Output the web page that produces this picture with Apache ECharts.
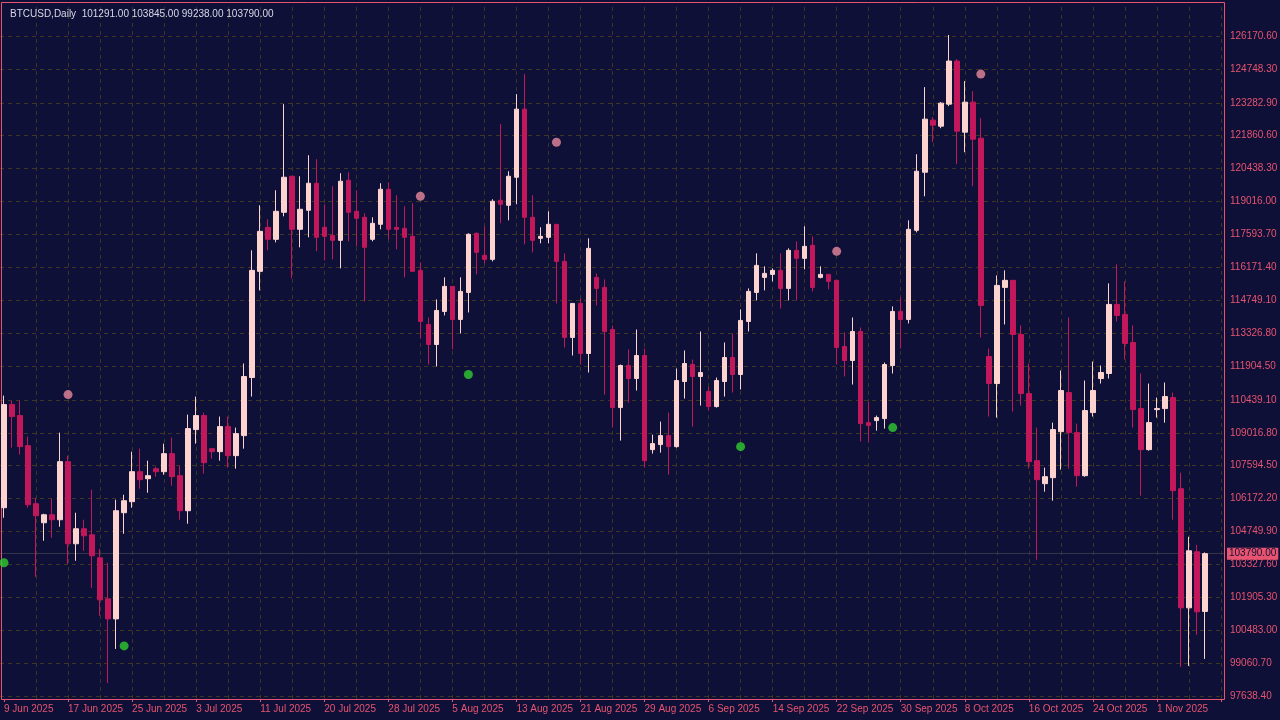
<!DOCTYPE html>
<html><head><meta charset="utf-8">
<script src="https://cdn.jsdelivr.net/npm/echarts@6/dist/echarts.min.js"></script>
<style>html,body{margin:0;padding:0;background:#0e1038;}#c{width:1280px;height:720px;}</style>
</head><body><div id="c"></div>
<script>
// OHLC per day: [open, close, low, high]
const ohlc = [
[105777,110236,105344,110626],[110236,109717,108375,110410],[109760,108418,108071,110410],[108461,105906,105777,108851],
[105949,105430,102789,106210],[105127,105473,104348,105517],[105473,105257,104478,106166],[105257,107768,104954,109024],
[107768,104218,103352,108028],[104218,104867,103482,105560],[104867,104564,103915,105257],[104607,103698,102313,106556],
[103611,101793,101100,104001],[101836,100970,98199,103395],[100970,105647,99671,106123],[105560,106080,104651,106339],
[106037,107335,105777,108201],[107335,106989,106599,108331],[107032,107162,106426,107811],[107465,107335,107119,107551],
[107335,108115,107205,108548],[108115,107119,106729,108808],[107162,105647,105257,107595],[105647,109197,105084,109803],
[109154,109760,108548,110583],[109760,107725,107249,109890],[108331,108201,107898,108331],[108201,109284,107811,109717],
[109284,108028,107509,109717],[108028,108981,107465,109241],[108894,111449,108331,112012],[111406,116039,110583,116905],
[115996,117727,115173,118853],[117901,117381,116905,118247],[117381,118593,117251,119503],[118550,120066,118377,123226],
[120109,117814,115692,120109],[117814,118680,117035,120109],[118637,119806,117468,121018],[119806,117468,116862,120845],
[117901,117511,116472,118896],[117555,117338,116515,119676],[117338,119893,116125,120239],[119936,118550,117294,120282],
[118593,118290,117078,119503],[118334,117035,114696,118507],[117381,118074,117294,118334],[118031,119546,117814,119806],
[119546,117814,117381,119849],[117901,117814,116948,119286],[117858,117468,115736,118810],[117511,115996,115996,118940],
[116039,113830,113094,116385],[113700,112834,111968,114003],[112834,114306,111882,114783],[114263,115346,114090,115736],
[115346,113917,112618,115346],[113917,115130,113311,115736],[115086,117598,114220,117641],[117641,116818,115866,117684],
[116688,116515,116342,117944],[116515,119027,116428,119113],[119070,118896,118074,122360],[118853,120109,118204,120326],
[120066,123010,118896,123659],[123010,118334,117165,124525],[118334,117338,116818,119286],[117425,117511,117208,117901],
[117468,118031,117208,118593],[118031,116428,114610,118031],[116428,113138,112705,116775],[113138,114610,112358,114610],
[114610,112445,111968,114826],[112445,116991,111622,117425],[115736,115260,114523,115909],[115303,113398,110669,115649],
[113484,110107,109241,113657],[110107,111925,108678,111968],[111925,111362,110323,112618],[111362,112358,110843,113484],
[112358,107811,107509,112661],[108288,108548,108115,108938],[108505,108894,108158,109501],[108894,108418,107205,109890],
[108418,111276,108375,111795],[111233,112012,110496,112575],[111968,111449,109284,112185],[111449,111622,110193,113398],
[110800,110150,109977,111016],[110150,111276,110107,111406],[111233,112271,110583,112921],[112271,111536,110756,113311],
[111536,113874,110886,114350],[113830,115130,113398,115260],[115086,116255,114740,116775],[115736,115909,115173,116212],
[115866,116039,115563,116125],[116039,115260,114393,116775],[115260,116905,114740,116991],[116905,116558,114740,117294],
[116558,117078,116082,117944],[117121,115303,115130,117511],[115736,115866,115692,116212],[115866,115563,115219,115866],
[115608,112705,111968,115608],[112748,112142,111449,113355],[112142,113398,111103,114003],[113398,109414,108635,113571],
[109457,109328,108635,110366],[109544,109674,109111,109760],[109630,111968,109197,112055],[111925,114263,111579,114480],
[114263,113917,112661,114870],[113917,117814,113744,118204],[117771,120326,117684,121061],[120282,122577,119243,123963],
[122534,122317,121581,122664],[122274,123270,122187,123313],[123226,125089,123140,126214],[125089,122058,120629,125175],
[122014,123313,121148,124222],[123313,121711,119676,123789],[121754,114523,113138,122620],[112315,111146,109717,112661],
[111146,115390,109674,115822],[115303,115608,113700,116039],[115608,113267,109934,115608],[113267,110713,110193,113657],
[110713,107768,107465,112012],[107811,106989,103525,109241],[106816,107119,106470,107509],[107076,109154,106080,109457],
[109067,110843,107422,111709],[110756,109024,107465,114003],[109024,107162,106686,109414],[107162,109977,107119,111276],
[109890,110843,109717,112098],[111362,111622,111146,111925],[111579,114566,111362,115476],[114566,114090,113830,116298],
[114133,112878,112185,115563],[112921,110020,109241,113657],[110063,108288,106297,111579],[108288,109457,108245,111146],
[110020,110063,109674,110540],[110063,110583,109457,111190],[110540,106513,105257,110756],[106599,101448,98893,107292],
[101448,103915,98937,104521],[103872,101275,100278,104174],[101291,103790,99238,103845]
];
const upDots = [[8,110669],[52,119243],[69,121581],[104,116862],[122,124525]];
const downDots = [[0,103395],[15,99802],[58,111536],[92,108418],[111,109241]];
const dateLabels = ['9 Jun 2025','17 Jun 2025','25 Jun 2025','3 Jul 2025','11 Jul 2025','20 Jul 2025','28 Jul 2025','5 Aug 2025','13 Aug 2025','21 Aug 2025','29 Aug 2025','6 Sep 2025','14 Sep 2025','22 Sep 2025','30 Sep 2025','8 Oct 2025','16 Oct 2025','24 Oct 2025','1 Nov 2025'];
const priceTicks = [126170.60,124748.30,123282.90,121860.60,120438.30,119016.00,117593.70,116171.40,114749.10,113326.80,111904.50,110439.10,109016.80,107594.50,106172.20,104749.90,103327.60,101905.30,100483.00,99060.70,97638.40];
const lastPrice = 103790.00;
const emptySlots = 2;

const cats = [];
for(let i=0;i<ohlc.length+emptySlots;i++) cats.push(String(i));
const AX = '#e8546f';
const FONT = 'Liberation Sans';
const gridMarks = [];
priceTicks.forEach(v=>gridMarks.push({yAxis:v,label:{show:true,formatter:v.toFixed(2)}}));
for(let i=4;i<cats.length;i+=4) gridMarks.push({xAxis:String(i),label:{show:false}});
const chart = echarts.init(document.getElementById('c'));
chart.setOption({
  backgroundColor:'#0e1038',
  animation:false,
  title:{text:'BTCUSD,Daily  101291.00 103845.00 99238.00 103790.00',left:5,top:4,textStyle:{color:'#d8d8e8',fontSize:10,fontWeight:'normal',fontFamily:FONT}},
  graphic:[{type:'rect',shape:{x:1.5,y:2.5,width:1223,height:697},style:{fill:null,stroke:AX,lineWidth:1},silent:true,z:100}],
  grid:{left:-1,right:55,top:2,bottom:21,show:false},
  xAxis:{type:'category',data:cats,boundaryGap:true,
    axisLine:{show:false},
    axisTick:{show:true,alignWithLabel:true,interval:(i)=>i%8===0,lineStyle:{color:AX},length:3},
    axisLabel:{interval:(i)=>i%8===0,formatter:(v,i)=>dateLabels[i/8]||'',align:'left',color:AX,fontSize:10,fontFamily:FONT,margin:5},
    splitLine:{show:false}},
  yAxis:{type:'value',min:97506,max:127643,show:false,splitLine:{show:false}},
  series:[
    {type:'line',data:cats.map(()=>null),z:1,silent:true,
     markLine:{silent:true,symbol:['none','none'],animation:false,
       lineStyle:{color:'#3d3620',type:[4,4],width:1},
       label:{position:'end',color:AX,fontSize:10,fontFamily:FONT,distance:5},
       data:gridMarks.concat([{yAxis:lastPrice,lineStyle:{color:'#34344a',type:'solid'},
         label:{show:true,formatter:lastPrice.toFixed(2),color:'#0e1038',backgroundColor:AX,padding:[1,2],distance:2}}])}},
    {type:'candlestick',data:ohlc,barWidth:5,zlevel:1,z:3,
     itemStyle:{color:'#fdd3d0',color0:'#c2185b',borderColor:'#fdd3d0',borderColor0:'#c2185b',borderWidth:1}},
    {type:'scatter',data:upDots.map(d=>[String(d[0]),d[1]]),symbolSize:9,itemStyle:{color:'#e8879c'},zlevel:1,z:5},
    {type:'scatter',data:downDots.map(d=>[String(d[0]),d[1]]),symbolSize:9,itemStyle:{color:'#2fcc2f'},zlevel:1,z:5}
  ]
});
</script></body></html>
